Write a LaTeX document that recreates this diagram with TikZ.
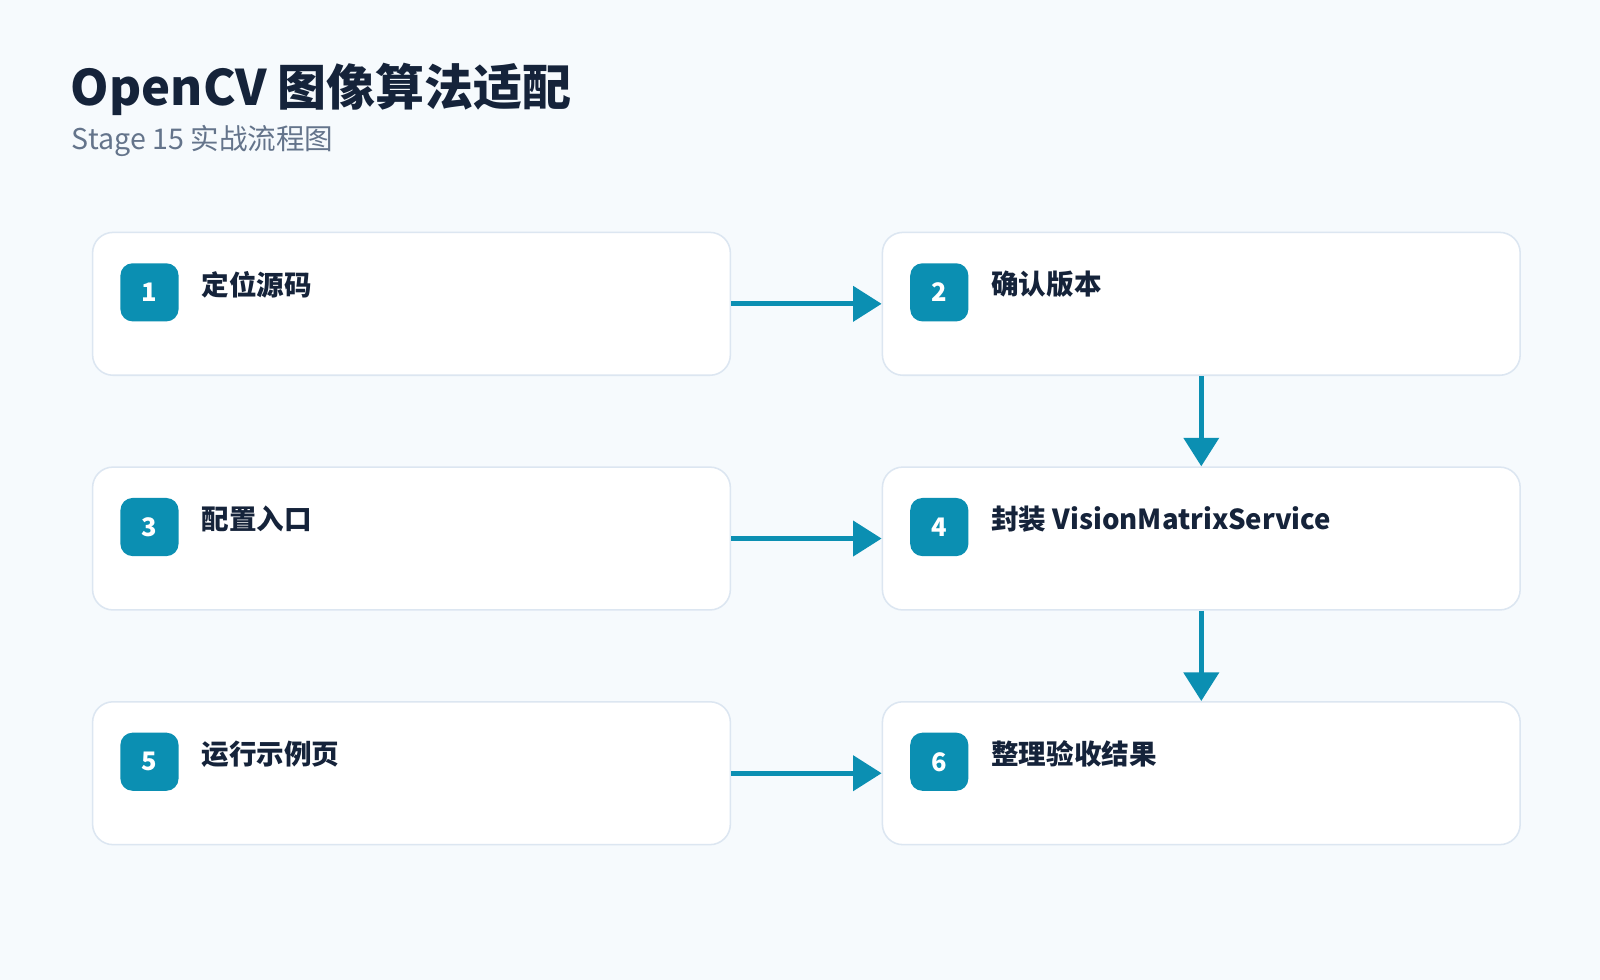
\documentclass[tikz,border=0pt]{standalone}
\usepackage{fontspec}
\setmainfont{Noto Sans CJK SC}
\usetikzlibrary{arrows.meta}
\definecolor{bg}{HTML}{F6FAFD}
\definecolor{bd}{HTML}{DCE6F1}
\definecolor{teal}{HTML}{0B8FB2}
\definecolor{ink}{HTML}{15233A}
\definecolor{sub}{HTML}{64748B}
\begin{document}
\begin{tikzpicture}[x=1pt,y=-1pt,
  box/.style={draw=bd,line width=1.5pt,fill=white,rounded corners=20pt,minimum width=625pt,minimum height=140pt,inner sep=0pt},
  badge/.style={fill=teal,rounded corners=12pt,minimum size=57pt,inner sep=0pt,text=white,font=\fontsize{25}{27}\selectfont\bfseries},
  lbl/.style={anchor=west,text=ink,font=\fontsize{27}{30}\selectfont\bfseries},
  arr/.style={draw=teal,line width=5pt,-{Triangle[length=28pt,width=34pt]}}]
\fill[bg] (0,0) rectangle (1568,960);
\useasboundingbox (0,0) rectangle (1568,960);
\node[anchor=west,text=ink,font=\fontsize{48}{52}\selectfont\bfseries] (title) at (66,88) {OpenCV 图像算法适配};
\node[anchor=west,text=sub,font=\fontsize{28}{32}\selectfont] (sub) at (67,138) {Stage 15 实战流程图};
\foreach \n/\x/\y/\t in {1/90/227/定位源码,2/864/227/确认版本,3/90/457/配置入口,4/864/457/封装 VisionMatrixService,5/90/687/运行示例页,6/864/687/整理验收结果}{
  \node[box,anchor=north west] (b\n) at (\x,\y) {};
  \node[badge] (k\n) at (\x+56.5,\y+59.5) {\n};
  \node[lbl] (t\n) at (\x+104,\y+52) {\t};
}
\draw[arr] (b1.east) -- (b2.west);
\draw[arr] (b3.east) -- (b4.west);
\draw[arr] (b5.east) -- (b6.west);
\draw[arr] (b2.south) -- (b4.north);
\draw[arr] (b4.south) -- (b6.north);
\end{tikzpicture}
\end{document}
